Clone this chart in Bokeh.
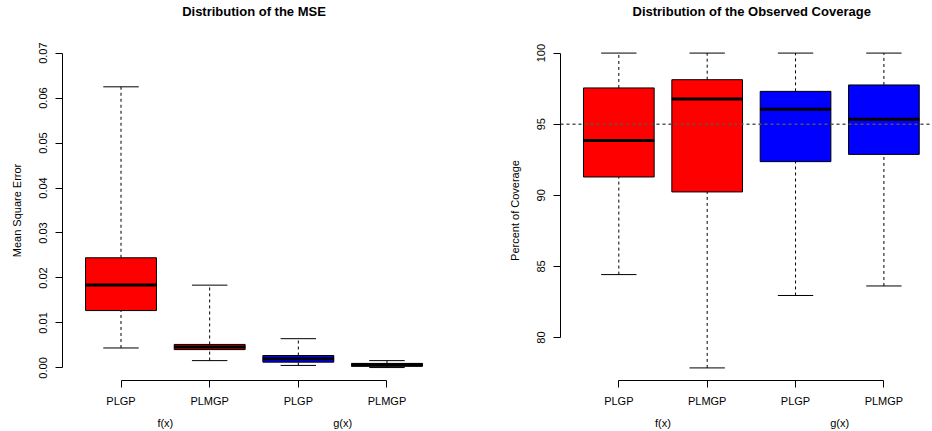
from bokeh.plotting import figure
from bokeh.layouts import row
from bokeh.models import Range1d, FixedTicker, LinearAxis, Title, Span
from bokeh.embed import file_html
from bokeh.resources import INLINE

# ---------------- data ----------------
positions = [1, 2, 3, 4]
box_labels = ["PLGP", "PLMGP", "PLGP", "PLMGP"]
group_positions = [1.5, 3.5]
group_labels = ["f(x)", "g(x)"]
box_colors = ["#FF0000", "#FF0000", "#0000FF", "#0000FF"]

mse_lower = [0.00443, 0.00162, 0.00055, 0.00008]
mse_q1 = [0.01275, 0.00407, 0.00128, 0.00035]
mse_median = [0.01844, 0.00465, 0.00204, 0.00068]
mse_q3 = [0.02449, 0.00522, 0.00275, 0.00100]
mse_upper = [0.0625, 0.0184, 0.0065, 0.00162]
mse_ticks = [0.0, 0.01, 0.02, 0.03, 0.04, 0.05, 0.06, 0.07]
mse_tick_labels = ["0.00", "0.01", "0.02", "0.03", "0.04", "0.05", "0.06", "0.07"]
mse_limits = [0.0, 0.07]

cov_lower = [84.43, 77.87, 82.96, 83.63]
cov_q1 = [91.29, 90.24, 92.37, 92.88]
cov_median = [93.86, 96.78, 96.05, 95.35]
cov_q3 = [97.55, 98.13, 97.31, 97.76]
cov_upper = [100.0, 100.0, 100.0, 100.0]
cov_ticks = [80, 85, 90, 95, 100]
cov_tick_labels = ["80", "85", "90", "95", "100"]
cov_reference = 95

FONT = "Liberation Sans"


def make_panel(title, ylabel, lower, q1, med, q3, upper, yticks, ytick_labels,
               ylim, width, border_left, border_right, x_end, title_align, title_offset):
    pad = 0.04 * (ylim[1] - ylim[0])
    p = figure(width=width, height=431, output_backend="svg", toolbar_location=None,
               x_range=Range1d(0.34, x_end),
               y_range=Range1d(ylim[0] - pad, ylim[1] + pad),
               min_border_left=border_left, min_border_right=border_right,
               min_border_top=40, min_border_bottom=50,
               x_axis_location=None, y_axis_location=None)
    p.outline_line_color = None
    p.xgrid.visible = False
    p.ygrid.visible = False
    p.background_fill_color = "white"
    p.border_fill_color = "white"

    # spacer between frame and title
    spacer = Title(text=" ", text_font=FONT, text_font_size="11px", standoff=8)
    p.add_layout(spacer, "above")
    t = Title(text=title, align=title_align, offset=title_offset, text_font=FONT,
              text_font_size="13px", text_font_style="bold", text_color="black",
              standoff=0)
    p.add_layout(t, "above")

    xs = positions
    # whiskers
    p.segment(x0=xs, y0=q3, x1=xs, y1=upper, line_color="black", line_width=1,
              line_dash="3 3")
    p.segment(x0=xs, y0=lower, x1=xs, y1=q1, line_color="black", line_width=1,
              line_dash="3 3")
    # boxes
    p.vbar(x=xs, width=0.8, bottom=q1, top=q3, fill_color=box_colors,
           line_color="black", line_width=1)
    # medians
    p.segment(x0=[x - 0.4 for x in xs], y0=med, x1=[x + 0.4 for x in xs], y1=med,
              line_color="black", line_width=3)
    # caps
    p.segment(x0=[x - 0.2 for x in xs], y0=upper, x1=[x + 0.2 for x in xs], y1=upper,
              line_color="black", line_width=1)
    p.segment(x0=[x - 0.2 for x in xs], y0=lower, x1=[x + 0.2 for x in xs], y1=lower,
              line_color="black", line_width=1)

    # y axis
    yax = LinearAxis(ticker=FixedTicker(ticks=yticks),
                     major_label_overrides={v: s for v, s in zip(yticks, ytick_labels)},
                     bounds=(yticks[0], yticks[-1]),
                     axis_label=ylabel,
                     axis_label_text_font=FONT, axis_label_text_font_size="11px",
                     axis_label_text_font_style="normal", axis_label_text_color="black",
                     axis_label_standoff=14,
                     major_label_text_font=FONT, major_label_text_font_size="11px",
                     major_label_text_color="black",
                     major_label_orientation="vertical", major_label_standoff=8,
                     major_tick_out=7, major_tick_in=0, minor_tick_out=0, minor_tick_in=0,
                     axis_line_color="black", major_tick_line_color="black")
    p.add_layout(yax, "left")

    # x axis (box labels)
    xax = LinearAxis(ticker=FixedTicker(ticks=positions),
                     major_label_overrides={v: s for v, s in zip(positions, box_labels)},
                     bounds=(positions[0], positions[-1]),
                     major_label_text_font=FONT, major_label_text_font_size="11px",
                     major_label_text_color="black", major_label_standoff=7,
                     major_tick_out=7, major_tick_in=0, minor_tick_out=0, minor_tick_in=0,
                     axis_line_color="black", major_tick_line_color="black")
    p.add_layout(xax, "below")

    # group axis
    gax = LinearAxis(ticker=FixedTicker(ticks=group_positions),
                     major_label_overrides={v: s for v, s in zip(group_positions, group_labels)},
                     major_label_text_font=FONT, major_label_text_font_size="11px",
                     major_label_text_color="black", major_label_standoff=7,
                     major_tick_out=0, major_tick_in=0, minor_tick_out=0, minor_tick_in=0,
                     axis_line_color=None, major_tick_line_color=None,
                     minor_tick_line_color=None)
    p.add_layout(gax, "below")
    return p


p1 = make_panel("Distribution of the MSE", "Mean Square Error",
                mse_lower, mse_q1, mse_median, mse_q3, mse_upper,
                mse_ticks, mse_tick_labels, mse_limits,
                width=466, border_left=62, border_right=21, x_end=4.66,
                title_align="center", title_offset=0)

cov_limits = [min(cov_lower), max(cov_upper)]
p2 = make_panel("Distribution of the Observed Coverage", "Percent of Coverage",
                cov_lower, cov_q1, cov_median, cov_q3, cov_upper,
                cov_ticks, cov_tick_labels, cov_limits,
                width=466, border_left=94, border_right=0, x_end=4.55,
                title_align="left", title_offset=72)
p2.add_layout(Span(location=cov_reference, dimension="width", line_color="#555555",
                   line_width=1.5, line_dash="3 3"))

layout = row(p1, p2)
open("out.html", "w").write(file_html(layout, INLINE))
